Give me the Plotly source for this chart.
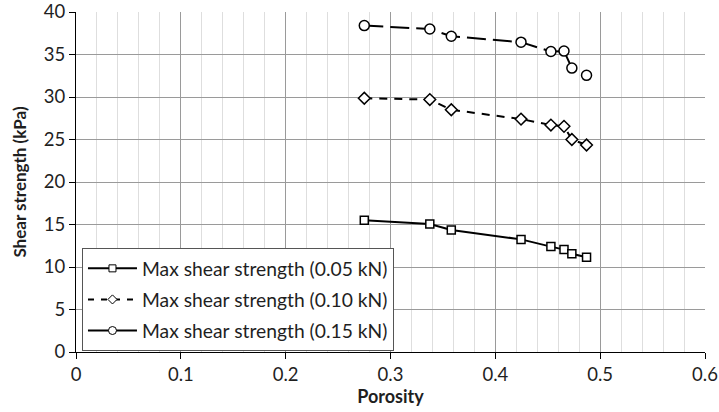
import plotly.graph_objects as go

porosity = [0.275, 0.3375, 0.358, 0.4245, 0.453, 0.4655, 0.473, 0.487]
s005 = [15.5, 15.05, 14.35, 13.25, 12.4, 12.05, 11.55, 11.15]
s010 = [29.85, 29.7, 28.5, 27.4, 26.7, 26.55, 25.0, 24.35]
s015 = [38.4, 38.0, 37.15, 36.45, 35.35, 35.4, 33.4, 32.55]

names = ["Max shear strength (0.05 kN)", "Max shear strength (0.10 kN)", "Max shear strength (0.15 kN)"]
xticks = [0, 0.1, 0.2, 0.3, 0.4, 0.5, 0.6]
yticks = [0, 5, 10, 15, 20, 25, 30, 35, 40]

series = [s005, s010, s015]
symbols = ["square", "diamond", "circle"]
sizes = [8, 9, 10]
legend_sizes = [7, 7, 8]
dashes = ["solid", "8px,7px", "19px,7px"]

fig = go.Figure()
for i, ys in enumerate(series):
    fig.add_trace(go.Scatter(x=porosity, y=ys, name=names[i], mode="lines+markers",
                             showlegend=False,
                             line=dict(color="black", width=2, dash=dashes[i]),
                             marker=dict(symbol=symbols[i], size=sizes[i], color="white",
                                         line=dict(color="black", width=1.5))))
for i in range(3):
    fig.add_trace(go.Scatter(x=[None], y=[None], name=names[i], mode="lines+markers",
                             legendgroup="g%d" % i,
                             line=dict(color="black", width=2,
                                       dash="solid" if i != 1 else "6px,7px"),
                             marker=dict(symbol=symbols[i], size=legend_sizes[i], color="white",
                                         line=dict(color="black", width=1))))

font = "Lato, 'Open Sans', sans-serif"
txt = "#1f1f1f"
fig.update_layout(
    width=719, height=412,
    margin=dict(l=76, r=14, t=12, b=60),
    paper_bgcolor="white", plot_bgcolor="white",
    font=dict(family=font, size=18, color=txt),
    showlegend=True,
    legend=dict(x=0.0095, y=0.305, xanchor="left", yanchor="top",
                bgcolor="white", bordercolor="#555", borderwidth=1,
                font=dict(size=19.3, family=font, color=txt),
                tracegroupgap=3, itemwidth=49, traceorder="grouped"),
    xaxis=dict(range=[0, 0.6], tickvals=xticks, ticktext=[str(v) for v in xticks],
               showgrid=True, gridcolor="#9a9a9a", gridwidth=1,
               minor=dict(dtick=0.02, showgrid=True, gridcolor="#dedede", gridwidth=1),
               showline=True, linecolor="black", linewidth=1,
               ticks="outside", ticklen=6, tickcolor="black",
               zeroline=False, automargin=False,
               tickfont=dict(size=18.5),
               title=dict(text="<b>Porosity</b>", font=dict(size=18, family=font, color=txt), standoff=2)),
    yaxis=dict(range=[0, 40], tickvals=yticks,
               showgrid=True, gridcolor="#9a9a9a", gridwidth=1,
               showline=True, linecolor="black", linewidth=1,
               ticks="outside", ticklen=6, tickcolor="black",
               zeroline=False, automargin=False,
               tickfont=dict(size=18.5),
               title=dict(text="<b>Shear strength (kPa)</b>", font=dict(size=17, family=font, color=txt), standoff=12)),
)
fig.write_html("out.html", config={"displayModeBar": False},
               post_script="document.body.style.margin='0';document.body.style.padding='0';")
